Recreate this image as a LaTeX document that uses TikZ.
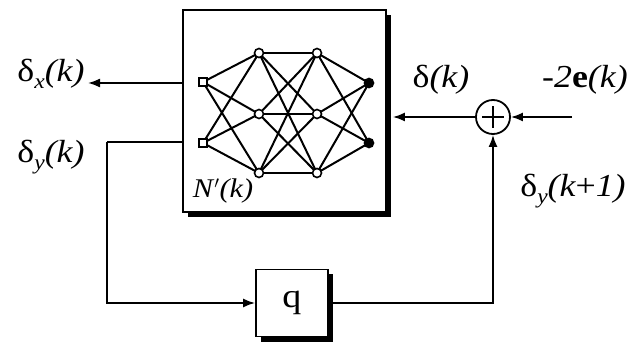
\documentclass[tikz,border=0pt]{standalone}
\usepackage{fontspec}
\setmainfont{Liberation Serif}[FakeStretch=1.12]
\usetikzlibrary{arrows.meta,shadows}
\begin{document}
\begin{tikzpicture}[x=1pt,y=-1pt,
  wire/.style={line width=1.8pt},
  arr/.style={wire,-{Latex[length=12pt,width=9pt]}},
  lbl/.style={font=\fontsize{32}{34}\selectfont\itshape, inner sep=0},
  blk/.style={draw,fill=white,line width=1.8pt,inner sep=0,
    drop shadow={shadow xshift=5pt,shadow yshift=-5pt,fill=black,opacity=1}},
  neur/.style={draw,circle,line width=1.6pt,fill=white,minimum size=9pt,inner sep=0},
  outn/.style={neur,fill=black},
  syn/.style={line width=2pt}]
\useasboundingbox (0,0) rectangle (638,342);
% network box
\node[blk,minimum width=203pt,minimum height=202pt] (N) at (284.5,111) {};
% delay box
\node[blk,minimum width=72pt,minimum height=67pt,font=\fontsize{34}{36}\selectfont] (Q) at (292,303) {q};
% sum
\node[draw,circle,wire,minimum size=34pt,inner sep=0] (S) at (493,117) {};
\draw[wire] ([yshift=-11pt]S.center) -- ([yshift=11pt]S.center)
            ([xshift=-11pt]S.center) -- ([xshift=11pt]S.center);
% network nodes
\coordinate (i1) at (203,82);  \coordinate (i2) at (203,143);
\coordinate (a1) at (259,53);  \coordinate (a2) at (259,114); \coordinate (a3) at (259,173);
\coordinate (b1) at (317,53);  \coordinate (b2) at (317,114); \coordinate (b3) at (317,173);
\coordinate (o1) at (369,83);  \coordinate (o2) at (369,143);
\foreach \i in {i1,i2} \foreach \a in {a1,a2,a3} \draw[syn] (\i) -- (\a);
\foreach \a in {a1,a2,a3} \foreach \b in {b1,b2,b3} \draw[syn] (\a) -- (\b);
\foreach \b in {b1,b2,b3} \foreach \o in {o1,o2} \draw[syn] (\b) -- (\o);
\foreach \n in {i1,i2} \node[neur,rectangle,minimum size=8pt] (n\n) at (\n) {};
\foreach \n in {a1,a2,a3,b1,b2,b3} \node[neur] (n\n) at (\n) {};
\foreach \n in {o1,o2} \node[outn] (n\n) at (\n) {};
\node[lbl,font=\fontsize{27}{29}\selectfont\itshape] (Nl) at (223,191) {N\/$'$(k)};
% connectors
\coordinate (xo) at (88,83);
\draw[arr] (N.west |- xo) -- (xo);
\coordinate (yo) at (107,142);
\draw[wire] (N.west |- yo) -- (yo);
\draw[arr] (yo) |- (Q.west);
\draw[arr] (Q.east) -| (S.south);
\draw[arr] (S.west) -- ([xshift=6pt]S.west -| N.east);
\coordinate (ein) at (572,117);
\draw[arr] (ein) -- (S.east);
% labels
\node[lbl] (lx) at (51,74) {{\upshape δ}\raisebox{-7pt}{\fontsize{21}{21}\selectfont x}(k)};
\node[lbl] (ly) at (51,157) {{\upshape δ}\raisebox{-7pt}{\fontsize{21}{21}\selectfont y}(k)};
\node[lbl] (ld) at (441,80) {{\upshape δ}(k)};
\node[lbl] (le) at (585,80) {-2{\upshape\bfseries e}(k)};
\node[lbl] (lk) at (573,191) {{\upshape δ}\raisebox{-7pt}{\fontsize{21}{21}\selectfont y}(k{\upshape +}1)};
\end{tikzpicture}
\end{document}
